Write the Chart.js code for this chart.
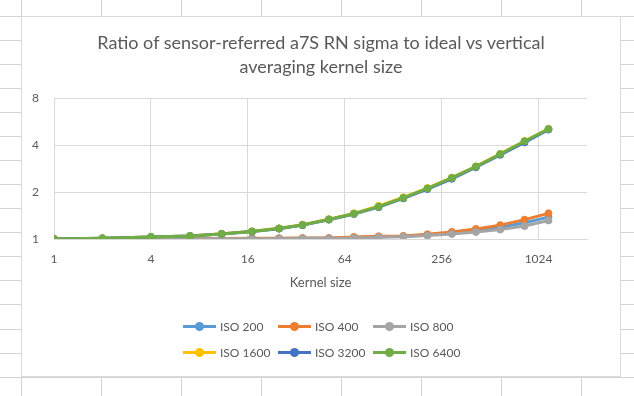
<!DOCTYPE html>
<html>
<head>
<meta charset="utf-8">
<script src="https://cdn.jsdelivr.net/npm/chart.js@4.4.0/dist/chart.umd.min.js"></script>
<style>
  html, body { margin: 0; padding: 0; background: #fff; }
  body { width: 634px; height: 396px; position: relative; overflow: hidden; font-family: Lato, "Liberation Sans", sans-serif; }
  #sheet { position: absolute; left: 0; top: 0; }
  #box { position: absolute; left: 21px; top: 16px; width: 600px; height: 361px; background: #fff; border: 1px solid #d9d9d9; box-sizing: border-box; }
  #chart-wrap { position: absolute; left: 0; top: 0; width: 598px; height: 359px; }
  #title { position: absolute; left: 0; width: 598px; top: 13px; text-align: center; font-size: 18px; line-height: 24px; color: #595959; }
  #legend { position: absolute; left: 161px; top: 300px; display: grid; grid-template-columns: 95px 95px 95px; row-gap: 8px; }
  .item { display: flex; align-items: center; height: 18px; font-size: 12px; color: #595959; white-space: nowrap; }
  .mark { position: relative; width: 33px; height: 8px; margin-right: 4px; }
  .mark .ln { position: absolute; left: 0; right: 0; top: 3px; height: 3px; }
  .mark .dot { position: absolute; left: 12px; top: 0; width: 9px; height: 9px; border-radius: 50%; }
</style>
</head>
<body>
<canvas id="sheet" width="634" height="396"></canvas>
<div id="box">
  <div id="chart-wrap"><canvas id="myChart"></canvas></div>
  <div id="title"></div>
  <div id="legend"></div>
</div>
<script>
// Data
const kernelSizes = [1, 2, 4, 7, 11, 17, 25, 35, 51, 73, 104, 148, 209, 296, 418, 592, 838, 1180];

const iso200  = [1, 1, 1.001, 1.003, 1.005, 1.007, 1.009, 1.01, 1.011, 1.022, 1.033, 1.04, 1.062, 1.095, 1.135, 1.19, 1.27, 1.38];
const iso400  = [1, 1, 1.002, 1.005, 1.008, 1.01, 1.012, 1.014, 1.014, 1.03, 1.04, 1.046, 1.072, 1.11, 1.16, 1.227, 1.33, 1.46];
const iso800  = [1, 1, 1, 1, 1.002, 1.003, 1.005, 1.007, 1.007, 1.014, 1.026, 1.035, 1.052, 1.078, 1.11, 1.15, 1.21, 1.315];
const iso1600 = [1, 1.01, 1.03, 1.047, 1.08, 1.12, 1.17, 1.235, 1.34, 1.46, 1.63, 1.85, 2.12, 2.47, 2.92, 3.51, 4.24, 5.07];
const iso3200 = [1, 1.01, 1.03, 1.045, 1.077, 1.115, 1.165, 1.227, 1.33, 1.445, 1.6, 1.82, 2.09, 2.43, 2.88, 3.46, 4.16, 5.02];
const iso6400 = [1, 1.01, 1.03, 1.046, 1.078, 1.117, 1.168, 1.23, 1.335, 1.452, 1.611, 1.834, 2.107, 2.46, 2.91, 3.5, 4.23, 5.06];

const seriesNames  = ["ISO 200", "ISO 400", "ISO 800", "ISO 1600", "ISO 3200", "ISO 6400"];
const seriesValues = [iso200, iso400, iso800, iso1600, iso3200, iso6400];
const seriesColors = ["#5B9BD5", "#ED7D31", "#A5A5A5", "#FFC000", "#4472C4", "#70AD47"];

const xTicks = [1, 4, 16, 64, 256, 1024];
const xMax = 2048;
const yTicks = [1, 2, 4, 8];

const chartTitle = ["Ratio of sensor-referred a7S RN sigma to ideal vs vertical", "averaging kernel size"];
const xTitle = "Kernel size";

const textColor = "#595959";
const gridColor = "#d9d9d9";

// spreadsheet cells behind the chart
(function drawSheet() {
    const c = document.getElementById('sheet').getContext('2d');
    c.strokeStyle = "#d4d4d4";
    c.lineWidth = 1;
    for (let x = 21.5; x < 634; x += 80) {
        c.beginPath(); c.moveTo(x, 0); c.lineTo(x, 396); c.stroke();
    }
    for (let y = 15.5; y < 396; y += 24.08) {
        const yy = Math.round(y) + 0.5;
        c.beginPath(); c.moveTo(0, yy); c.lineTo(634, yy); c.stroke();
    }
})();

// title, centred on the whole chart box
const titleDiv = document.getElementById('title');
chartTitle.forEach(line => {
    const d = document.createElement('div');
    d.textContent = line;
    titleDiv.appendChild(d);
});

// legend (Excel style: line with a marker)
const legendDiv = document.getElementById('legend');
seriesNames.forEach((name, i) => {
    const item = document.createElement('div');
    item.className = 'item';
    item.innerHTML = `<span class="mark"><span class="ln" style="background:${seriesColors[i]}"></span><span class="dot" style="background:${seriesColors[i]}"></span></span>${name}`;
    legendDiv.appendChild(item);
});

const datasets = seriesNames.map((name, i) => ({
    label: name,
    data: kernelSizes.map((k, j) => ({ x: k, y: seriesValues[i][j] })),
    borderColor: seriesColors[i],
    backgroundColor: seriesColors[i],
    borderWidth: 3,
    pointRadius: 3.5,
    pointBorderWidth: 1,
    pointBackgroundColor: seriesColors[i],
    order: seriesNames.length - 1 - i, // later series on top, like Excel
    tension: 0
}));

const ctx = document.getElementById('myChart').getContext('2d');
new Chart(ctx, {
    type: 'line',
    data: { datasets: datasets },
    options: {
        responsive: true,
        maintainAspectRatio: false,
        animation: false,
        layout: { padding: { left: 0, right: 33, top: 81, bottom: 85 } },
        plugins: {
            legend: { display: false },
            tooltip: { enabled: false }
        },
        scales: {
            x: {
                type: 'logarithmic',
                min: 1,
                max: xMax,
                afterBuildTicks: s => { s.ticks = xTicks.concat([xMax]).map(v => ({ value: v })); },
                ticks: {
                    color: textColor,
                    font: { family: "Lato", size: 12 },
                    padding: 13,
                    autoSkip: false,
                    maxRotation: 0,
                    callback: v => xTicks.includes(v) ? String(v) : ''
                },
                grid: {
                    drawTicks: false,
                    color: c => (c.tick && c.tick.value === xMax) ? 'rgba(0,0,0,0)' : gridColor
                },
                border: { color: gridColor },
                title: {
                    display: true,
                    text: xTitle,
                    color: textColor,
                    font: { family: "Lato", size: 13 },
                    padding: { top: -4, bottom: 0 }
                }
            },
            y: {
                type: 'logarithmic',
                min: 1,
                max: 8,
                afterBuildTicks: s => { s.ticks = yTicks.map(v => ({ value: v })); },
                afterFit: s => { s.width = 32; },
                ticks: {
                    color: textColor,
                    font: { family: "Lato", size: 12 },
                    padding: 15,
                    callback: v => String(v)
                },
                grid: { drawTicks: false, color: gridColor },
                border: { display: false }
            }
        }
    }
});
</script>
</body>
</html>
